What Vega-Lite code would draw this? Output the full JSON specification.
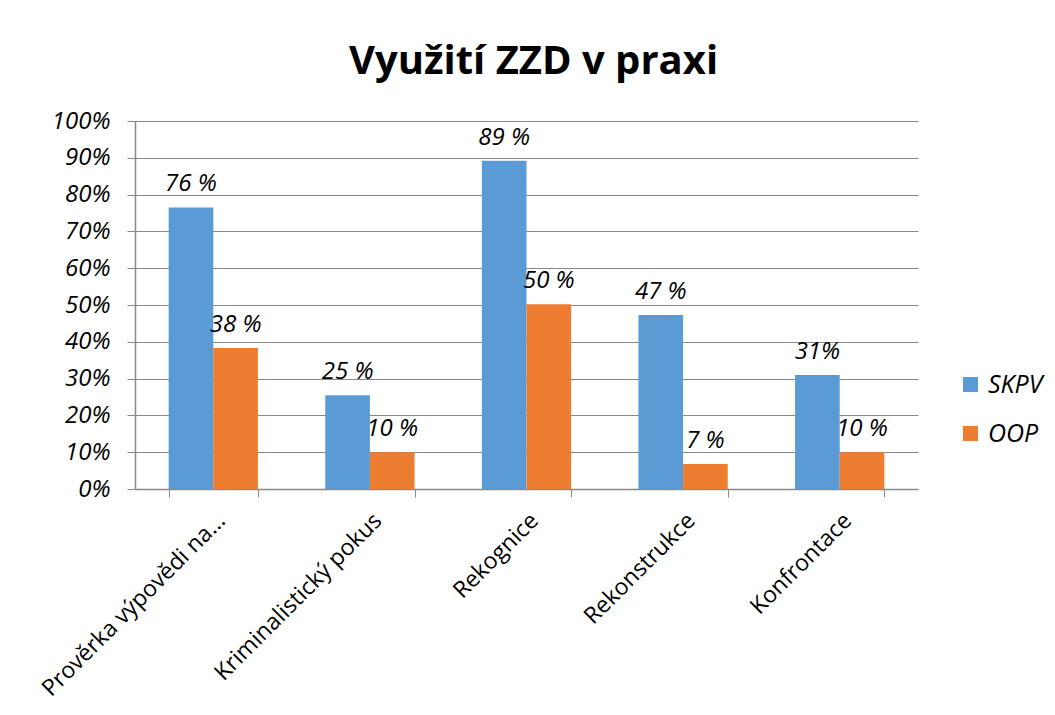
{
  "$schema": "https://vega.github.io/schema/vega-lite/v6.json",
  "autosize": "none",
  "width": 783,
  "height": 368,
  "padding": {"left": 135, "top": 121, "right": 137, "bottom": 226},
  "background": "white",
  "title": {
    "text": "Využití ZZD v praxi",
    "font": "Open Sans",
    "fontSize": 40,
    "fontWeight": "bold",
    "color": "#000000",
    "anchor": "middle",
    "dx": 7,
    "offset": 27
  },
  "data": {
    "values": [
      {"kategorie": "Prověrka výpovědi na...", "skupina": "SKPV", "hodnota": 76.5, "popisek": "76 %"},
      {"kategorie": "Prověrka výpovědi na...", "skupina": "OOP", "hodnota": 38.3, "popisek": "38 %"},
      {"kategorie": "Kriminalistický pokus", "skupina": "SKPV", "hodnota": 25.5, "popisek": "25 %"},
      {"kategorie": "Kriminalistický pokus", "skupina": "OOP", "hodnota": 10, "popisek": "10 %"},
      {"kategorie": "Rekognice", "skupina": "SKPV", "hodnota": 89.2, "popisek": "89 %"},
      {"kategorie": "Rekognice", "skupina": "OOP", "hodnota": 50.2, "popisek": "50 %"},
      {"kategorie": "Rekonstrukce", "skupina": "SKPV", "hodnota": 47.3, "popisek": "47 %"},
      {"kategorie": "Rekonstrukce", "skupina": "OOP", "hodnota": 6.8, "popisek": "7 %"},
      {"kategorie": "Konfrontace", "skupina": "SKPV", "hodnota": 31, "popisek": "31%"},
      {"kategorie": "Konfrontace", "skupina": "OOP", "hodnota": 10, "popisek": "10 %"}
    ]
  },
  "encoding": {
    "x": {
      "field": "kategorie",
      "type": "nominal",
      "sort": null,
      "scale": {"paddingInner": 0.43, "paddingOuter": 0.215},
      "axis": {
        "title": null,
        "labelAngle": -45,
        "labelFont": "Open Sans",
        "labelFontSize": 23,
        "labelColor": "#000000",
        "labelPadding": 12,
        "tickBand": "extent",
        "tickSize": 8,
        "tickColor": "#898989",
        "domainColor": "#898989",
        "domainWidth": 1.5,
        "grid": false,
        "labelLimit": 400
      }
    },
    "xOffset": {
      "field": "skupina",
      "type": "nominal",
      "sort": ["SKPV", "OOP"],
      "scale": {"paddingInner": 0, "paddingOuter": 0}
    },
    "y": {
      "field": "hodnota",
      "type": "quantitative",
      "scale": {"domain": [0, 100], "nice": false},
      "axis": {
        "title": null,
        "values": [0, 10, 20, 30, 40, 50, 60, 70, 80, 90, 100],
        "labelExpr": "datum.value + '%'",
        "labelFont": "Open Sans",
        "labelFontStyle": "italic",
        "labelFontSize": 24,
        "labelColor": "#000000",
        "labelPadding": 17,
        "tickSize": 8,
        "tickColor": "#898989",
        "domainColor": "#898989",
        "domainWidth": 1.5,
        "gridColor": "#898989",
        "gridWidth": 1
      }
    }
  },
  "layer": [
    {
      "mark": {"type": "bar"},
      "encoding": {
        "color": {
          "field": "skupina",
          "type": "nominal",
          "scale": {"domain": ["SKPV", "OOP"], "range": ["#5B9BD5", "#ED7D31"]},
          "legend": {
            "title": null,
            "orient": "none",
            "legendX": 823,
            "legendY": 251,
            "symbolType": "square",
            "symbolSize": 225,
            "symbolStrokeWidth": 0,
            "labelFont": "Open Sans",
            "labelFontStyle": "italic",
            "labelFontSize": 25,
            "labelColor": "#000000",
            "rowPadding": 23,
            "labelOffset": 5,
            "padding": 0
          }
        }
      }
    },
    {
      "mark": {
        "type": "text",
        "baseline": "bottom",
        "dy": -11,
        "font": "Open Sans",
        "fontStyle": "italic",
        "fontSize": 24,
        "color": "#000000"
      },
      "encoding": {
        "text": {"field": "popisek"}
      }
    }
  ],
  "config": {
    "view": {"stroke": null}
  }
}
